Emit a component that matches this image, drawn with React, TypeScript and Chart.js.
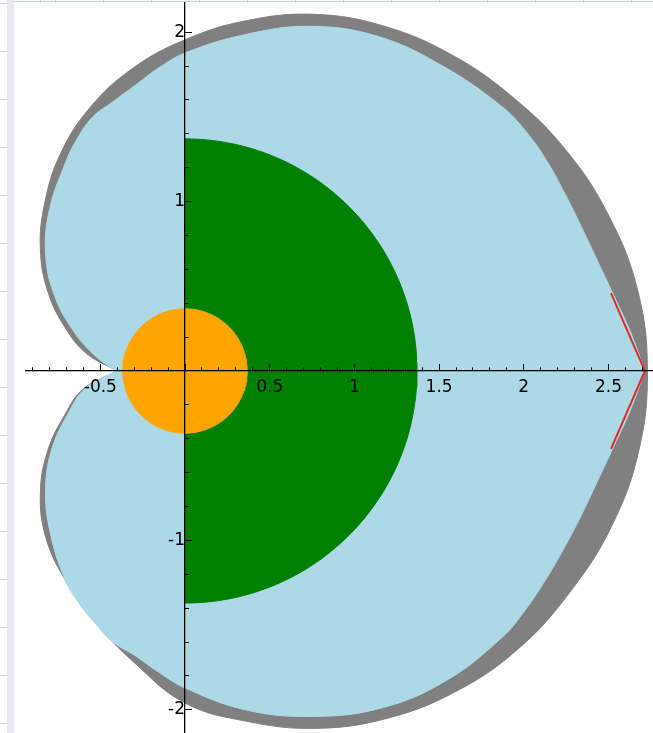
import React, { useEffect, useRef } from 'react';
import { Chart, registerables } from 'chart.js';

Chart.register(...registerables);

// Axis ranges (data units)
const xRange = [-0.939, 2.763];
const yRange = [-2.137, 2.172];

// Tick labels
const xTickLabels = [-0.5, 0.5, 1, 1.5, 2, 2.5];
const yTickLabels = [-2, -1, 1, 2];

// Outer gray polar curve (angle in degrees, radius)
const grayAngles = [
  180, 170, 160, 150, 140, 130, 120, 110, 100, 90, 80, 70, 60, 50, 40, 30, 20, 10, 0,
  -10, -20, -30, -40, -50, -60, -70, -80, -90, -100, -110, -120, -130, -140, -150, -160, -170, -180,
];
const grayRadii = [
  0.4, 0.59, 0.755, 0.935, 1.115, 1.29, 1.475, 1.65, 1.81, 1.955, 2.1, 2.24, 2.35, 2.44, 2.52, 2.6, 2.665, 2.715, 2.73,
  2.72, 2.68, 2.62, 2.56, 2.475, 2.37, 2.245, 2.1, 1.96, 1.745, 1.57, 1.42, 1.28, 1.115, 0.935, 0.755, 0.61, 0.4,
];

// Light blue polar curve
const blueAngles = [
  180, 170, 160, 150, 140, 130, 120, 115, 110, 105, 100, 95, 90, 80, 70, 60, 50, 40, 35, 30, 25, 20, 15, 10, 5, 0,
  -5, -10, -15, -20, -25, -30, -35, -40, -50, -60, -70, -80, -90, -95, -100, -105, -110, -115, -120, -130, -140,
  -150, -160, -170, -180,
];
const blueRadii = [
  0.41, 0.545, 0.705, 0.89, 1.075, 1.245, 1.415, 1.51, 1.595, 1.645, 1.71, 1.795, 1.877, 2.015, 2.165, 2.28, 2.355,
  2.435, 2.46, 2.47, 2.475, 2.49, 2.52, 2.57, 2.64, 2.715,
  2.64, 2.57, 2.52, 2.49, 2.47, 2.46, 2.455, 2.445, 2.39, 2.3, 2.17, 2.03, 1.871, 1.785, 1.705, 1.655, 1.575, 1.5,
  1.42, 1.24, 1.075, 0.905, 0.735, 0.6, 0.41,
];
// Angles where the light blue curve has a sharp corner
const blueCornerAngles = [0];

// Red tangent lines at the right tip
const redX = [2.515, 2.715, 2.515];
const redY = [0.46, 0, -0.46];

// Radii of the green half disk and the orange disk
const greenRadius = 1.37;
const orangeRadius = 0.367;

const FONT = 'DejaVu Sans';

function polarPoints(angles: number[], radii: number[], corners: number[] = []) {
  const pts: { x: number; y: number }[] = [];
  angles.forEach((a, i) => {
    const t = (a * Math.PI) / 180;
    const p = { x: radii[i] * Math.cos(t), y: radii[i] * Math.sin(t) };
    pts.push(p);
    if (corners.includes(a)) pts.push({ ...p });
  });
  return pts;
}

function arcPoints(r: number, fromDeg: number, toDeg: number) {
  const pts: { x: number; y: number }[] = [];
  for (let a = fromDeg; a <= toDeg + 1e-9; a += 2) {
    const t = (a * Math.PI) / 180;
    pts.push({ x: r * Math.cos(t), y: r * Math.sin(t) });
  }
  return pts;
}

const zeroPad = (s: any) => {
  s.paddingLeft = 0;
  s.paddingRight = 0;
  s.paddingTop = 0;
  s.paddingBottom = 0;
};

const labelFrom = (list: number[]) => (v: any) => {
  const n = Number(v);
  const hit = list.find((t) => Math.abs(t - n) < 1e-6);
  return hit === undefined ? '' : String(hit);
};

export default function App() {
  const ref = useRef<HTMLCanvasElement | null>(null);

  useEffect(() => {
    document.body.style.margin = '0';
    const canvas = ref.current;
    if (!canvas) return;

    const fillDs = (label: string, data: any[], color: string, order: number, tension: number) => ({
      label,
      data,
      showLine: true,
      fill: 'shape',
      backgroundColor: color,
      borderColor: color,
      borderWidth: 1,
      pointRadius: 0,
      pointHoverRadius: 0,
      tension,
      order,
    });

    const chart = new Chart(canvas, {
      type: 'scatter',
      data: {
        datasets: [
          {
            label: 'red',
            data: redX.map((x, i) => ({ x, y: redY[i] })),
            showLine: true,
            fill: false,
            borderColor: '#e02a2a',
            borderWidth: 2,
            pointRadius: 0,
            pointHoverRadius: 0,
            tension: 0,
            order: 1,
          },
          fillDs('orange', arcPoints(orangeRadius, 0, 360), '#ffa500', 2, 0),
          fillDs('green', arcPoints(greenRadius, -90, 90), '#008000', 3, 0),
          fillDs('lightblue', polarPoints(blueAngles, blueRadii, blueCornerAngles), '#add8e6', 4, 0.4),
          fillDs('gray', polarPoints(grayAngles, grayRadii), '#808080', 5, 0.4),
        ] as any,
      },
      options: {
        responsive: false,
        devicePixelRatio: 1,
        animation: false,
        events: [],
        layout: { padding: { left: 26, top: 3, right: 0, bottom: 0 } },
        plugins: { legend: { display: false }, tooltip: { enabled: false } },
        scales: {
          x: {
            type: 'linear',
            position: { y: 0 } as any,
            min: xRange[0],
            max: xRange[1],
            afterFit: zeroPad,
            ticks: {
              stepSize: 0.1,
              maxTicksLimit: 200,
              includeBounds: false,
              autoSkip: false,
              maxRotation: 0,
              minRotation: 0,
              padding: 10,
              color: '#000',
              font: { family: FONT, size: 17 },
              callback: labelFrom(xTickLabels),
              z: 2,
            } as any,
            grid: { drawOnChartArea: false, drawTicks: true, tickLength: -4, tickColor: '#000', tickWidth: 1, z: 2 } as any,
            border: { display: true, color: '#000', width: 1.3, z: 2 } as any,
          },
          xMajor: {
            type: 'linear',
            axis: 'x',
            position: { y: 0 } as any,
            min: xRange[0],
            max: xRange[1],
            afterFit: zeroPad,
            ticks: {
              stepSize: 0.5,
              maxTicksLimit: 200,
              includeBounds: false,
              autoSkip: false,
              maxRotation: 0,
              callback: () => '',
              z: 2,
            } as any,
            grid: { drawOnChartArea: false, drawTicks: true, tickLength: -7, tickColor: '#000', tickWidth: 1, z: 2 } as any,
            border: { display: false } as any,
          } as any,
          y: {
            type: 'linear',
            position: { x: 0 } as any,
            min: yRange[0],
            max: yRange[1],
            afterFit: zeroPad,
            ticks: {
              stepSize: 0.2,
              maxTicksLimit: 200,
              includeBounds: false,
              autoSkip: false,
              padding: 9,
              color: '#000',
              font: { family: FONT, size: 17 },
              callback: labelFrom(yTickLabels),
              z: 2,
            } as any,
            grid: { drawOnChartArea: false, drawTicks: true, tickLength: -5, tickColor: '#000', tickWidth: 1, z: 2 } as any,
            border: { display: true, color: '#000', width: 1.3, z: 2 } as any,
          },
          yMajor: {
            type: 'linear',
            axis: 'y',
            position: { x: 0 } as any,
            min: yRange[0],
            max: yRange[1],
            afterFit: zeroPad,
            ticks: {
              stepSize: 1,
              maxTicksLimit: 200,
              includeBounds: false,
              autoSkip: false,
              callback: () => '',
              z: 2,
            } as any,
            grid: { drawOnChartArea: false, drawTicks: true, tickLength: -7, tickColor: '#000', tickWidth: 1, z: 2 } as any,
            border: { display: false } as any,
          } as any,
        },
      } as any,
    });

    return () => chart.destroy();
  }, []);

  const gridColor = '#c5d3e8';
  return (
    <div style={{ position: 'relative', width: 653, height: 733, overflow: 'hidden', background: '#fff' }}>
      <div
        style={{
          position: 'absolute',
          left: 0,
          top: 0,
          width: 7,
          height: 733,
          backgroundImage: `repeating-linear-gradient(to bottom, ${gridColor} 0px, ${gridColor} 1px, transparent 1px, transparent 48px)`,
          backgroundPosition: '0 3px',
        }}
      />
      <div style={{ position: 'absolute', left: 7, top: 0, width: 7, height: 733, background: '#e9e9ee' }} />
      <div style={{ position: 'absolute', left: 14, top: 1, width: 639, height: 1, background: gridColor }} />
      <div
        style={{
          position: 'absolute',
          left: 14,
          top: 0,
          width: 639,
          height: 3,
          backgroundImage: `repeating-linear-gradient(to right, ${gridColor} 0px, ${gridColor} 1px, transparent 1px, transparent 48px)`,
          backgroundPosition: '41px 0',
        }}
      />
      <canvas ref={ref} width={653} height={733} style={{ position: 'absolute', left: 0, top: 0, width: 653, height: 733 }} />
    </div>
  );
}
